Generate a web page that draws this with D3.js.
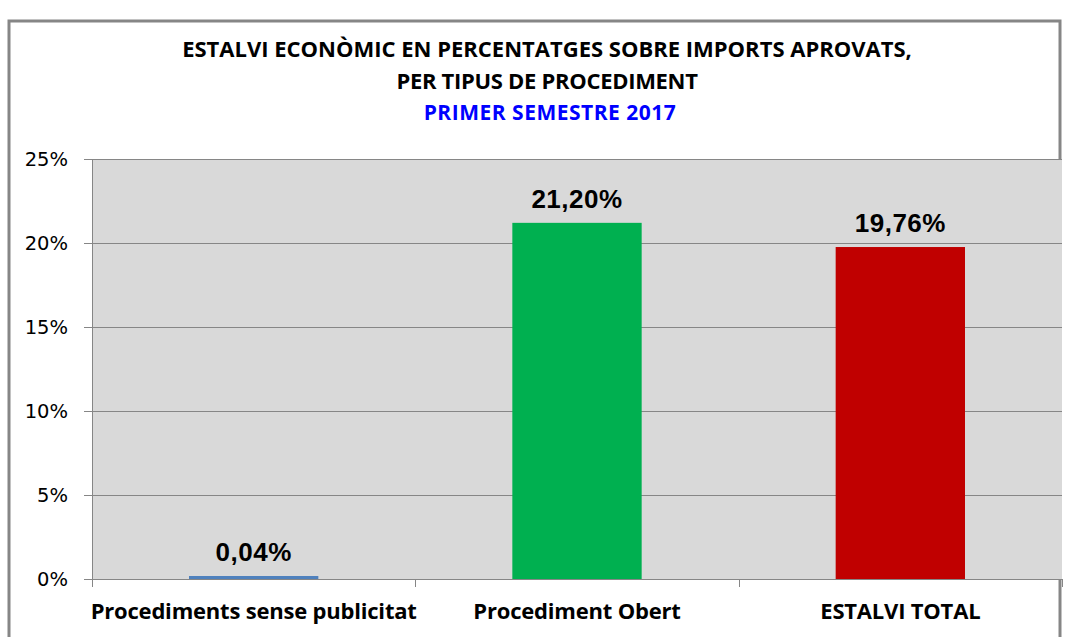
<!DOCTYPE html>
<html>
<head>
<meta charset="utf-8">
<script src="https://cdn.jsdelivr.net/npm/d3@7"></script>
<style>
  body { margin: 0; background: #fff; }
  svg { display: block; }
</style>
</head>
<body>
<div id="chart"></div>
<script>
// --- data ---
const categories = ["Procediments sense publicitat", "Procediment Obert", "ESTALVI TOTAL"];
const values = [0.04, 21.20, 19.76];
const barColors = ["#4F81BD", "#00B050", "#C00000"];
const yTicks = [0, 5, 10, 15, 20, 25];
const titleLines = ["ESTALVI ECONÒMIC EN PERCENTATGES SOBRE IMPORTS APROVATS,", "PER TIPUS DE PROCEDIMENT"];
const subtitle = "PRIMER SEMESTRE 2017";

const width = 1075, height = 637;
const plot = { left: 92, right: 1062, top: 159, bottom: 579 };

const svg = d3.select("#chart").append("svg")
  .attr("width", width).attr("height", height);

// outer frame
svg.append("rect")
  .attr("x", 9).attr("y", 21)
  .attr("width", 1051).attr("height", 630)
  .attr("fill", "none").attr("stroke", "#868686").attr("stroke-width", 3);

// titles
const titleFont = "'Open Sans', sans-serif";
const titleSpacing = ["0px", "-0.3px"];
titleLines.forEach((t, i) => {
  svg.append("text")
    .attr("x", 547).attr("y", 57 + i * 32)
    .attr("text-anchor", "middle")
    .style("font-family", titleFont).style("font-weight", 700)
    .style("font-size", "22px").style("letter-spacing", titleSpacing[i])
    .attr("fill", "#000").text(t);
});
svg.append("text")
  .attr("x", 550).attr("y", 120)
  .attr("text-anchor", "middle")
  .style("font-family", titleFont).style("font-weight", 700)
  .style("font-size", "21px").style("letter-spacing", "0.5px")
  .attr("fill", "#0000FF").text(subtitle);

// scales
const x = d3.scaleBand().domain(categories)
  .range([plot.left, plot.right]).paddingInner(0.6).paddingOuter(0.3);
const y = d3.scaleLinear().domain([0, 25]).range([plot.bottom, plot.top]);

// plot background
svg.append("rect")
  .attr("x", plot.left).attr("y", plot.top)
  .attr("width", plot.right - plot.left).attr("height", plot.bottom - plot.top)
  .attr("fill", "#D9D9D9");

// y axis with gridlines
const yAxis = svg.append("g")
  .attr("transform", `translate(${plot.left},0)`)
  .call(d3.axisLeft(y).tickValues(yTicks).tickSize(8).tickFormat(d => d + "%"));
yAxis.select(".domain").attr("stroke", "#868686");
yAxis.selectAll(".tick line").attr("stroke", "#868686");
yAxis.selectAll(".tick text")
  .attr("x", -24)
  .attr("fill", "#000")
  .style("font-family", "'DejaVu Sans', Verdana, sans-serif")
  .style("font-size", "19.5px");
svg.append("g").selectAll("line")
  .data(yTicks.filter(d => d > 0))
  .join("line")
  .attr("x1", plot.left).attr("x2", plot.right)
  .attr("y1", d => Math.round(y(d)) + 0.5).attr("y2", d => Math.round(y(d)) + 0.5)
  .attr("stroke", "#868686").attr("stroke-width", 1);

// bars
svg.append("g").selectAll("rect")
  .data(values)
  .join("rect")
  .attr("x", (d, i) => x(categories[i]))
  .attr("width", x.bandwidth())
  .attr("y", d => Math.min(y(d), y(0) - 3))
  .attr("height", d => Math.max(3, y(0) - y(d)))
  .attr("fill", (d, i) => barColors[i]);

// x axis
const xAxisG = svg.append("g").attr("transform", `translate(0,${plot.bottom})`);
xAxisG.append("line")
  .attr("x1", plot.left).attr("x2", plot.right)
  .attr("y1", 0.5).attr("y2", 0.5)
  .attr("stroke", "#868686");
const bandEdges = categories.map(c => x(c) - x.step() * x.paddingInner() / 2);
bandEdges.push(plot.right);
bandEdges[0] = plot.left;
xAxisG.selectAll("line.tk")
  .data(bandEdges)
  .join("line").attr("class", "tk")
  .attr("x1", d => Math.round(d) + 0.5).attr("x2", d => Math.round(d) + 0.5)
  .attr("y1", 0).attr("y2", 8)
  .attr("stroke", "#868686");
xAxisG.selectAll("text")
  .data(categories)
  .join("text")
  .attr("x", d => x(d) + x.bandwidth() / 2)
  .attr("y", 40)
  .attr("text-anchor", "middle")
  .style("font-family", titleFont).style("font-weight", 700)
  .style("font-size", "22px").style("letter-spacing", "-0.2px")
  .attr("fill", "#000")
  .text(d => d);

// value labels
const fmtPct = v => d3.format(".2f")(v).replace(".", ",") + "%";
svg.append("g").selectAll("text")
  .data(values)
  .join("text")
  .attr("x", (d, i) => x(categories[i]) + x.bandwidth() / 2)
  .attr("y", d => Math.min(y(d), y(0) - 3) - 15)
  .attr("text-anchor", "middle")
  .style("font-family", "'Liberation Sans', Arial, sans-serif")
  .style("font-weight", 700).style("font-size", "26px")
  .style("letter-spacing", "0.5px")
  .attr("fill", "#000")
  .text(fmtPct);
</script>
</body>
</html>
